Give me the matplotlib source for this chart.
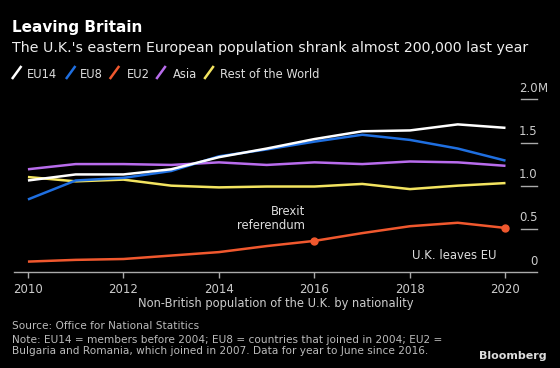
import numpy as np
import matplotlib
matplotlib.use("Agg")
import matplotlib.pyplot as plt
from matplotlib.lines import Line2D

years = [2010, 2011, 2012, 2013, 2014, 2015, 2016, 2017, 2018, 2019, 2020]
eu14 = [1.06, 1.13, 1.13, 1.19, 1.33, 1.43, 1.54, 1.63, 1.64, 1.71, 1.67]
eu8 = [0.84, 1.06, 1.09, 1.17, 1.34, 1.42, 1.51, 1.59, 1.53, 1.43, 1.29]
eu2 = [0.12, 0.14, 0.15, 0.19, 0.23, 0.30, 0.36, 0.45, 0.53, 0.57, 0.51]
asia = [1.19, 1.25, 1.25, 1.24, 1.27, 1.24, 1.27, 1.25, 1.28, 1.27, 1.23]
rest = [1.10, 1.05, 1.07, 1.00, 0.98, 0.99, 0.99, 1.02, 0.96, 1.00, 1.03]

labels = ['EU14', 'EU8', 'EU2', 'Asia', 'Rest of the World']
colors = ['#ffffff', '#1f6fe0', '#f0582e', '#b86cec', '#f3e460']
series = [eu14, eu8, eu2, asia, rest]

y_ticks = [0, 0.5, 1.0, 1.5, 2.0]
y_tick_labels = ['0', '0.5', '1.0', '1.5', '2.0']
x_ticks = [2010, 2012, 2014, 2016, 2018, 2020]

plt.rcParams['font.family'] = ['DejaVu Sans']

fig = plt.figure(figsize=(5.6, 3.68), dpi=100, facecolor='black')
ax = fig.add_axes([0.0243, 0.261, 0.9355, 0.469], facecolor='black')

# draw order: yellow, purple, blue, white, orange
for i in [4, 3, 1, 0, 2]:
    ax.plot(years, series[i], color=colors[i], lw=1.8, solid_capstyle='butt')

# event markers on EU2 (referendum, leaving)
ax.plot([2016, 2020], [eu2[6], eu2[10]], 'o', color=colors[2], ms=5)

ax.set_xlim(2009.70, 2020.67)
ax.set_ylim(0, 2.0)

for s in ['top', 'left', 'right']:
    ax.spines[s].set_visible(False)
ax.spines['bottom'].set_color('#aaaaaa')
ax.spines['bottom'].set_linewidth(1)

ax.set_xticks(x_ticks)
ax.set_xticklabels([str(x) for x in x_ticks])
ax.tick_params(axis='x', colors='#aaaaaa', labelcolor='#cccccc', length=4,
               width=1, labelsize=8.5, pad=4)
ax.set_yticks([])

# right-hand y labels sitting on short tick lines
for v in y_ticks[1:]:
    ax.plot([2020.33, 2020.67], [v, v], color='#aaaaaa', lw=1, clip_on=False)
for v, lab in zip(y_ticks, y_tick_labels):
    ax.text(2020.67, v + 0.05, lab, color='#cccccc', fontsize=8.5,
            ha='right', va='bottom')
ax.text(2020.67, 2.05, 'M', color='#cccccc', fontsize=8.5, ha='left', va='bottom')

ax.text(2015.80, 0.46, 'Brexit\nreferendum', color='#dddddd', fontsize=8.4,
        ha='right', va='bottom', linespacing=1.15)
ax.text(2019.81, 0.11, 'U.K. leaves EU', color='#dddddd', fontsize=8.4,
        ha='right', va='bottom')

ax.set_xlabel('Non-British population of the U.K. by nationality', color='#cccccc',
              fontsize=8.3, labelpad=1)

fig.text(0.021, 0.912, 'Leaving Britain', color='white', fontsize=11,
         fontweight='bold', va='baseline')
fig.text(0.021, 0.860, "The U.K.'s eastern European population shrank almost 200,000 last year",
         color='#eeeeee', fontsize=10.2, va='baseline')

# legend with slanted swatches
sw_x = [12.7, 66.7, 110.5, 157, 205]
txt_x = [26.7, 80, 127, 173, 220]
for sx, tx, lab, col in zip(sw_x, txt_x, labels, colors):
    fig.add_artist(Line2D([sx / 560, (sx + 8) / 560], [1 - 78 / 368, 1 - 67 / 368],
                          transform=fig.transFigure, color=col, lw=1.8))
    fig.text(tx / 560, 0.787, lab, color='#dddddd', fontsize=8.3, va='baseline')

fig.text(0.021, 0.106, 'Source: Office for National Statitics', color='#bbbbbb',
         fontsize=7.6, va='baseline')
fig.text(0.021, 0.069, 'Note: EU14 = members before 2004; EU8 = countries that joined in 2004; EU2 =',
         color='#bbbbbb', fontsize=7.6, va='baseline')
fig.text(0.021, 0.037, 'Bulgaria and Romania, which joined in 2007. Data for year to June since 2016.',
         color='#bbbbbb', fontsize=7.6, va='baseline')
fig.text(547 / 560, 0.024, 'Bloomberg', color='#dddddd', fontsize=8, fontweight='bold',
         va='baseline', ha='right')

fig.savefig('out.png', dpi=100, facecolor='black')
